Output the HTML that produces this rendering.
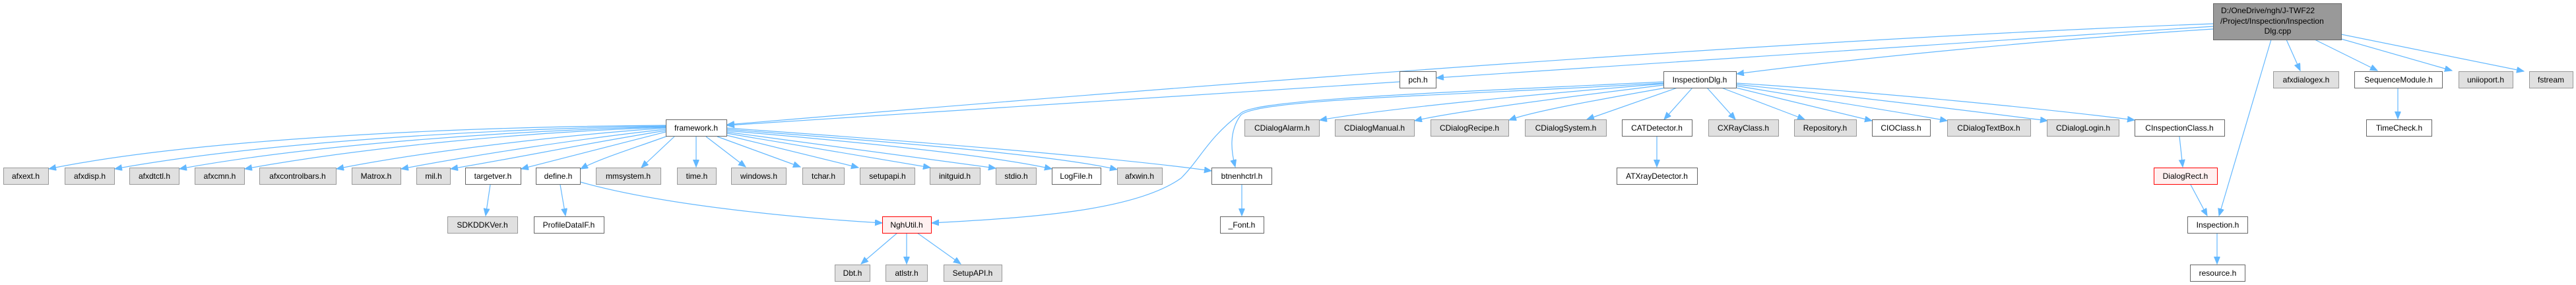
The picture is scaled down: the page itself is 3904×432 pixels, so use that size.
<!DOCTYPE html>
<html><head><meta charset="utf-8"><style>
html,body{margin:0;padding:0;background:#fff;}
svg{display:block;}
text{font-family:"Liberation Sans",Arial,sans-serif;font-size:12px;fill:#000;}
.g{fill:#e0e0e0;stroke:#999;stroke-width:1;}
.w{fill:#fff;stroke:#666;stroke-width:1;}
.r{fill:#fff0f0;stroke:#f00;stroke-width:1;}
.e{fill:none;stroke:#63b8ff;stroke-width:1.2;marker-end:url(#a);}
</style></head><body>
<svg width="3904" height="432" viewBox="0 0 3904 432" xmlns="http://www.w3.org/2000/svg">
<defs><marker id="a" markerUnits="userSpaceOnUse" markerWidth="12" markerHeight="10" refX="11" refY="4.5" orient="auto"><path d="M0,0 L11,4.5 L0,9 z" fill="#63b8ff" stroke="#63b8ff"/></marker></defs>

<!-- edges from top node -->
<path class="e" d="M3354,40 C2900,70 2400,100 2177,118"/>
<path class="e" d="M3354,36 C2700,60 1800,130 1102,189"/>
<path class="e" d="M2121,124 C1700,150 1400,170 1102,190"/>
<path class="e" d="M3354,44 C3100,60 2800,90 2632,112"/>
<path class="e" d="M3442,60 L3363,327"/>
<path class="e" d="M3465,60 L3486,107"/>
<path class="e" d="M3508,60 L3603,107"/>
<path class="e" d="M3548,59 L3716,107"/>
<path class="e" d="M3548,52 L3825,108"/>

<!-- InspectionDlg edges -->
<path class="e" d="M2521,124 C2200,140 1900,150 1880,172 C1830,210 1820,240 1790,270 C1720,320 1560,330 1412,338"/>
<path class="e" d="M2521,126 C2200,145 1900,150 1880,175 C1862,200 1866,230 1872,253"/>
<path class="e" d="M2521,127 C2300,145 2100,165 2000,182"/>
<path class="e" d="M2521,129 C2350,150 2200,170 2144,183"/>
<path class="e" d="M2525,133 C2400,155 2320,170 2287,182"/>
<path class="e" d="M2542,133 L2405,181"/>
<path class="e" d="M2565,133 L2522,181"/>
<path class="e" d="M2587,133 L2630,181"/>
<path class="e" d="M2609,133 L2735,181"/>
<path class="e" d="M2631,133 C2700,150 2790,172 2837,183"/>
<path class="e" d="M2631,130 C2750,150 2880,170 2951,183"/>
<path class="e" d="M2631,128 C2800,145 3000,170 3103,183"/>
<path class="e" d="M2631,126 C2850,140 3100,165 3235,182"/>
<path class="e" d="M2511,207 L2511,253"/>
<path class="e" d="M3303,207 L3308,253"/>
<path class="e" d="M3320,280 L3345,327"/>
<path class="e" d="M3360,353 L3360,400"/>
<path class="e" d="M3634,133 L3634,180"/>

<!-- framework edges -->
<path class="e" d="M1009,190 C700,192 300,210 74,256"/>
<path class="e" d="M1009,191 C750,195 400,215 174,256"/>
<path class="e" d="M1009,192 C780,198 480,218 272,256"/>
<path class="e" d="M1009,193 C800,200 560,222 371,256"/>
<path class="e" d="M1009,194 C850,205 640,230 510,256"/>
<path class="e" d="M1009,196 C880,210 720,235 608,256"/>
<path class="e" d="M1009,198 C900,215 780,240 683,256"/>
<path class="e" d="M1009,200 C930,220 850,240 790,256"/>
<path class="e" d="M1012,206 C960,225 910,240 880,256"/>
<path class="e" d="M1022,207 L972,254"/>
<path class="e" d="M1055,207 L1055,253"/>
<path class="e" d="M1070,207 L1130,253"/>
<path class="e" d="M1087,207 L1213,253"/>
<path class="e" d="M1101,205 L1301,254"/>
<path class="e" d="M1101,202 L1410,254"/>
<path class="e" d="M1101,200 L1509,255"/>
<path class="e" d="M1101,198 C1300,215 1500,235 1594,256"/>
<path class="e" d="M1101,196 C1350,215 1600,235 1693,257"/>
<path class="e" d="M1101,194 C1400,215 1700,240 1836,259"/>
<path class="e" d="M743,280 L736,327"/>
<path class="e" d="M849,280 L857,327"/>
<path class="e" d="M880,276 C1000,310 1200,330 1337,338"/>
<path class="e" d="M1360,353 L1305,400"/>
<path class="e" d="M1374,353 L1374,400"/>
<path class="e" d="M1390,353 L1456,400"/>
<path class="e" d="M1882,280 L1882,327"/>

<!-- top node -->
<rect x="3354.5" y="5.5" width="194" height="55" fill="#999" stroke="#666"/>
<text x="3366" y="20">D:/OneDrive/ngh/J-TWF22</text>
<text x="3365" y="36">/Project/Inspection/Inspection</text>
<text x="3452" y="51" text-anchor="middle">Dlg.cpp</text>

<!-- row 108 -->
<rect class="w" x="2121.5" y="108.5" width="55" height="25"/><text x="2149" y="125" text-anchor="middle">pch.h</text>
<rect class="w" x="2521.5" y="108.5" width="110" height="25"/><text x="2576" y="125" text-anchor="middle">InspectionDlg.h</text>
<rect class="g" x="3445.5" y="108.5" width="99" height="25"/><text x="3495" y="125" text-anchor="middle">afxdialogex.h</text>
<rect class="w" x="3568.5" y="108.5" width="133" height="25"/><text x="3635" y="125" text-anchor="middle">SequenceModule.h</text>
<rect class="g" x="3726.5" y="108.5" width="82" height="25"/><text x="3767" y="125" text-anchor="middle">uniioport.h</text>
<rect class="g" x="3833.5" y="108.5" width="66" height="25"/><text x="3866" y="125" text-anchor="middle">fstream</text>

<!-- row 181 -->
<rect class="w" x="1009.5" y="181.5" width="92" height="25"/><text x="1055" y="198" text-anchor="middle">framework.h</text>
<rect class="g" x="1886.5" y="181.5" width="113" height="25"/><text x="1943" y="198" text-anchor="middle">CDialogAlarm.h</text>
<rect class="g" x="2023.5" y="181.5" width="120" height="25"/><text x="2083" y="198" text-anchor="middle">CDialogManual.h</text>
<rect class="g" x="2168.5" y="181.5" width="118" height="25"/><text x="2227" y="198" text-anchor="middle">CDialogRecipe.h</text>
<rect class="g" x="2311.5" y="181.5" width="123" height="25"/><text x="2373" y="198" text-anchor="middle">CDialogSystem.h</text>
<rect class="w" x="2458.5" y="181.5" width="106" height="25"/><text x="2511" y="198" text-anchor="middle">CATDetector.h</text>
<rect class="g" x="2589.5" y="181.5" width="106" height="25"/><text x="2642" y="198" text-anchor="middle">CXRayClass.h</text>
<rect class="g" x="2719.5" y="181.5" width="94" height="25"/><text x="2766" y="198" text-anchor="middle">Repository.h</text>
<rect class="w" x="2837.5" y="181.5" width="88" height="25"/><text x="2881" y="198" text-anchor="middle">CIOClass.h</text>
<rect class="g" x="2951.5" y="181.5" width="126" height="25"/><text x="3014" y="198" text-anchor="middle">CDialogTextBox.h</text>
<rect class="g" x="3102.5" y="181.5" width="109" height="25"/><text x="3157" y="198" text-anchor="middle">CDialogLogin.h</text>
<rect class="w" x="3235.5" y="181.5" width="136" height="25"/><text x="3303" y="198" text-anchor="middle">CInspectionClass.h</text>
<rect class="w" x="3586.5" y="181.5" width="99" height="25"/><text x="3636" y="198" text-anchor="middle">TimeCheck.h</text>

<!-- row 254 -->
<rect class="g" x="5.5" y="254.5" width="68" height="25"/><text x="39" y="271" text-anchor="middle">afxext.h</text>
<rect class="g" x="98.5" y="254.5" width="75" height="25"/><text x="136" y="271" text-anchor="middle">afxdisp.h</text>
<rect class="g" x="196.5" y="254.5" width="75" height="25"/><text x="234" y="271" text-anchor="middle">afxdtctl.h</text>
<rect class="g" x="295.5" y="254.5" width="75" height="25"/><text x="333" y="271" text-anchor="middle">afxcmn.h</text>
<rect class="g" x="393.5" y="254.5" width="116" height="25"/><text x="451" y="271" text-anchor="middle">afxcontrolbars.h</text>
<rect class="g" x="533.5" y="254.5" width="74" height="25"/><text x="570" y="271" text-anchor="middle">Matrox.h</text>
<rect class="g" x="631.5" y="254.5" width="51" height="25"/><text x="657" y="271" text-anchor="middle">mil.h</text>
<rect class="w" x="705.5" y="254.5" width="84" height="25"/><text x="747" y="271" text-anchor="middle">targetver.h</text>
<rect class="w" x="812.5" y="254.5" width="67" height="25"/><text x="846" y="271" text-anchor="middle">define.h</text>
<rect class="g" x="903.5" y="254.5" width="98" height="25"/><text x="952" y="271" text-anchor="middle">mmsystem.h</text>
<rect class="g" x="1026.5" y="254.5" width="59" height="25"/><text x="1056" y="271" text-anchor="middle">time.h</text>
<rect class="g" x="1108.5" y="254.5" width="83" height="25"/><text x="1150" y="271" text-anchor="middle">windows.h</text>
<rect class="g" x="1216.5" y="254.5" width="63" height="25"/><text x="1248" y="271" text-anchor="middle">tchar.h</text>
<rect class="g" x="1303.5" y="254.5" width="83" height="25"/><text x="1345" y="271" text-anchor="middle">setupapi.h</text>
<rect class="g" x="1409.5" y="254.5" width="76" height="25"/><text x="1447" y="271" text-anchor="middle">initguid.h</text>
<rect class="g" x="1509.5" y="254.5" width="61" height="25"/><text x="1540" y="271" text-anchor="middle">stdio.h</text>
<rect class="w" x="1594.5" y="254.5" width="74" height="25"/><text x="1631" y="271" text-anchor="middle">LogFile.h</text>
<rect class="g" x="1693.5" y="254.5" width="68" height="25"/><text x="1727" y="271" text-anchor="middle">afxwin.h</text>
<rect class="w" x="1836.5" y="254.5" width="91" height="25"/><text x="1882" y="271" text-anchor="middle">btnenhctrl.h</text>
<rect class="w" x="2450.5" y="254.5" width="122" height="25"/><text x="2511" y="271" text-anchor="middle">ATXrayDetector.h</text>
<rect class="r" x="3264.5" y="254.5" width="96" height="25"/><text x="3312" y="271" text-anchor="middle">DialogRect.h</text>

<!-- row 328 -->
<rect class="g" x="678.5" y="328.5" width="106" height="25"/><text x="731" y="345" text-anchor="middle">SDKDDKVer.h</text>
<rect class="w" x="809.5" y="328.5" width="106" height="25"/><text x="862" y="345" text-anchor="middle">ProfileDataIF.h</text>
<rect class="r" x="1337.5" y="328.5" width="74" height="25"/><text x="1374" y="345" text-anchor="middle">NghUtil.h</text>
<rect class="w" x="1849.5" y="328.5" width="66" height="25"/><text x="1882" y="345" text-anchor="middle">_Font.h</text>
<rect class="w" x="3315.5" y="328.5" width="91" height="25"/><text x="3361" y="345" text-anchor="middle">Inspection.h</text>

<!-- row 401 -->
<rect class="g" x="1265.5" y="401.5" width="53" height="25"/><text x="1292" y="418" text-anchor="middle">Dbt.h</text>
<rect class="g" x="1342.5" y="401.5" width="63" height="25"/><text x="1374" y="418" text-anchor="middle">atlstr.h</text>
<rect class="g" x="1430.5" y="401.5" width="88" height="25"/><text x="1474" y="418" text-anchor="middle">SetupAPI.h</text>
<rect class="w" x="3319.5" y="401.5" width="83" height="25"/><text x="3361" y="418" text-anchor="middle">resource.h</text>
</svg>
</body></html>
